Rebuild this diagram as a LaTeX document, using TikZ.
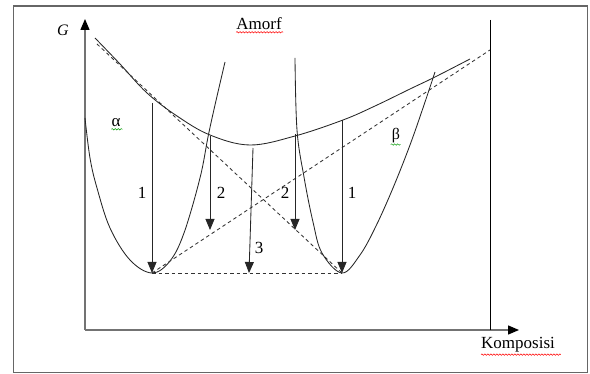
\documentclass[tikz,border=0pt]{standalone}
\usepackage{fontspec}
\setmainfont{Liberation Serif}
\usetikzlibrary{arrows.meta,decorations.pathmorphing}
\begin{document}
\begin{tikzpicture}[x=1pt,y=-1pt,
  frame/.style={draw=black!60,line width=1.4pt},
  axis/.style={draw=black!55,line width=1.3pt,-{Triangle[length=11pt,width=9pt,color=black]}},
  curve/.style={draw=black!85,line width=0.85pt},
  dashline/.style={draw=black!80,line width=0.85pt,dash pattern=on 3.5pt off 3pt},
  drop/.style={draw=black!85,line width=0.85pt,-{Triangle[length=11pt,width=9pt]}},
  num/.style={font=\fontsize{17}{17}\selectfont,inner sep=0pt},
  title/.style={font=\fontsize{17}{17}\selectfont,inner sep=0pt},
  wavy/.style={decorate,decoration={snake,amplitude=0.7pt,segment length=3pt},line width=0.5pt}
]
\useasboundingbox (0,0) rectangle (590,374);
\draw[frame] (13.5,6) rectangle (587.5,372.5);

% axes
\coordinate (O) at (85,330);
\coordinate (Ytip) at (85,19);
\coordinate (Xtip) at (519,330);
\draw[axis] (O) -- (Ytip);
\draw[axis] (O) -- (Xtip);
\coordinate (Rtop) at (490,20);
\coordinate (Rbot) at (490,330);
\draw[draw=black,line width=0.9pt] (Rtop) -- (Rbot);

% labels
\node[font=\fontsize{16}{16}\selectfont\itshape,inner sep=0pt] (G) at (63,30) {G};
\node[title] (amorf) at (259,24) {Amorf};
\draw[wavy,red] (amorf.south west) ++(0,2) -- ++(47,0);
\node[title] (komp) at (518,345) {Komposisi};
\draw[wavy,red] (komp.south west) ++(0,2) -- ++(80,0);
\node[font=\fontsize{17}{17}\selectfont,inner sep=0pt] (alpha) at (116,123) {α};
\draw[wavy,green!60!black] (alpha.south west) ++(0,2) -- ++(11,0);
\node[font=\fontsize{16}{16}\selectfont,inner sep=0pt] (beta) at (396,136) {β};
\draw[wavy,green!60!black] (beta.south west) ++(-1,1) -- ++(10,0);

% amorphous curve
\draw[curve] plot[smooth,tension=0.6] coordinates {(95,38) (120,64) (147,93) (177,116) (210,135) (250,145) (295,136) (343,120) (375,106) (410,89) (435,77) (470,59)};

% alpha parabola
\draw[curve] plot[smooth,tension=0.6] coordinates {(85,118) (90,158) (97,188) (110,228) (130,260) (152,273) (170,261) (184,233) (200,178) (208,137) (215,105) (225,62)};

% beta parabola
\draw[curve] plot[smooth,tension=0.6] coordinates {(295,58) (297,130) (304,177) (313,222) (322,253) (342,273) (360,255) (376,226) (393,188) (410,145) (424,105) (435,72)};

% common tangents
\coordinate (A0) at (97,44);
\coordinate (Amin) at (152,273);
\coordinate (Bmin) at (342,273);
\coordinate (B0) at (490,50);
\draw[dashline] (A0) -- (Bmin);
\draw[dashline] (Amin) -- (B0);
\draw[dashline] (Amin) -- (Bmin);

% transformation arrows
\coordinate (a1s) at (152,103);
\draw[drop] (a1s) -- (Amin);
\node[num] (n1a) at (142,193) {1};

\coordinate (a2s) at (210,136);
\coordinate (a2e) at (210,230);
\draw[drop] (a2s) -- (a2e);
\node[num] (n2a) at (221,193) {2};

\coordinate (a3s) at (253,148);
\coordinate (a3e) at (249,273);
\draw[drop] (a3s) -- (a3e);
\node[num] (n3) at (259,248) {3};

\coordinate (b2s) at (295,134);
\coordinate (b2e) at (295,230);
\draw[drop] (b2s) -- (b2e);
\node[num] (n2b) at (285,193) {2};

\coordinate (b1s) at (342,120);
\draw[drop] (b1s) -- (Bmin);
\node[num] (n1b) at (352,193) {1};
\end{tikzpicture}
\end{document}
